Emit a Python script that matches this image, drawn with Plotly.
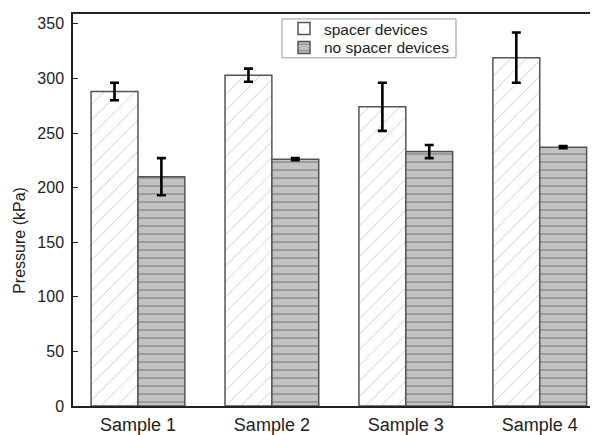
import plotly.graph_objects as go

categories = ["Sample 1", "Sample 2", "Sample 3", "Sample 4"]
spacer = [288, 303, 274, 319]
spacer_err = [8, 6, 22, 23]
nospacer = [210, 226, 233, 237]
nospacer_err = [17, 1, 6, 1]
y_ticks = [0, 50, 100, 150, 200, 250, 300, 350]

FONT = "Liberation Sans, Arial, sans-serif"

# plot area in page pixels (page body has an 8px margin)
PL, PR, PT, PB = 73, 598, 14, 408
def px_x(v):
    return (v - PL) / (PR - PL)
def px_y(v):
    return (PB - v) / (PB - PT)

fig = go.Figure()
fig.add_trace(go.Bar(
    name="spacer devices", x=categories, y=spacer, legend="legend", showlegend=True,
    error_y=dict(type="data", array=spacer_err, color="black", thickness=2.6, width=4.5),
    marker=dict(color="white", line=dict(color="#555555", width=1.5),
                pattern=dict(shape="/", fgcolor="#8a8a8a", bgcolor="white", size=11, solidity=0.08)),
))
fig.add_trace(go.Bar(
    name="no spacer devices", x=categories, y=nospacer, legend="legend2", showlegend=True,
    error_y=dict(type="data", array=nospacer_err, color="black", thickness=2.6, width=4.5),
    marker=dict(color="#c2c2c2", line=dict(color="#555555", width=1.5),
                pattern=dict(shape="-", fgcolor="#555555", bgcolor="#c2c2c2", size=8, solidity=0.18)),
))

leg_common = dict(xanchor="left", yanchor="middle", bgcolor="rgba(0,0,0,0)", borderwidth=0,
                  font=dict(size=15.5, family=FONT, color="#222222"), itemwidth=30, visible=True)

fig.update_layout(
    width=590, height=427,
    margin=dict(l=65, r=0, t=6, b=27, pad=0),
    paper_bgcolor="white", plot_bgcolor="white",
    showlegend=True,
    barmode="group", bargap=0.3, bargroupgap=0,
    font=dict(family=FONT, color="#222222"),
    legend=dict(x=px_x(284), y=px_y(29), **leg_common),
    legend2=dict(x=px_x(284), y=px_y(48), **leg_common),
    shapes=[dict(type="rect", xref="paper", yref="paper",
                 x0=px_x(282), x1=px_x(456), y0=px_y(58), y1=px_y(19),
                 line=dict(color="#999999", width=1), fillcolor="rgba(0,0,0,0)", layer="above")],
    xaxis=dict(range=[-0.485, 3.435], showline=True, mirror=True, linecolor="#222222", linewidth=1.5,
               ticks="", showgrid=False, zeroline=False, ticklabelstandoff=2,
               tickfont=dict(size=18, family=FONT, color="#222222")),
    yaxis=dict(range=[0, 359], tickvals=y_ticks, showline=True, linecolor="#222222", linewidth=1.5,
               ticks="inside", ticklen=5, tickcolor="#222222", tickwidth=1.2,
               showgrid=False, zeroline=False, ticklabelstandoff=4,
               tickfont=dict(size=16, family=FONT, color="#222222")),
    annotations=[dict(text="Pressure (kPa)", textangle=-90, xref="paper", yref="paper",
                      x=px_x(20), y=px_y(242), xanchor="center", yanchor="middle", showarrow=False,
                      font=dict(size=16, family=FONT, color="#222222"))],
)

fig.write_html("out.html")
